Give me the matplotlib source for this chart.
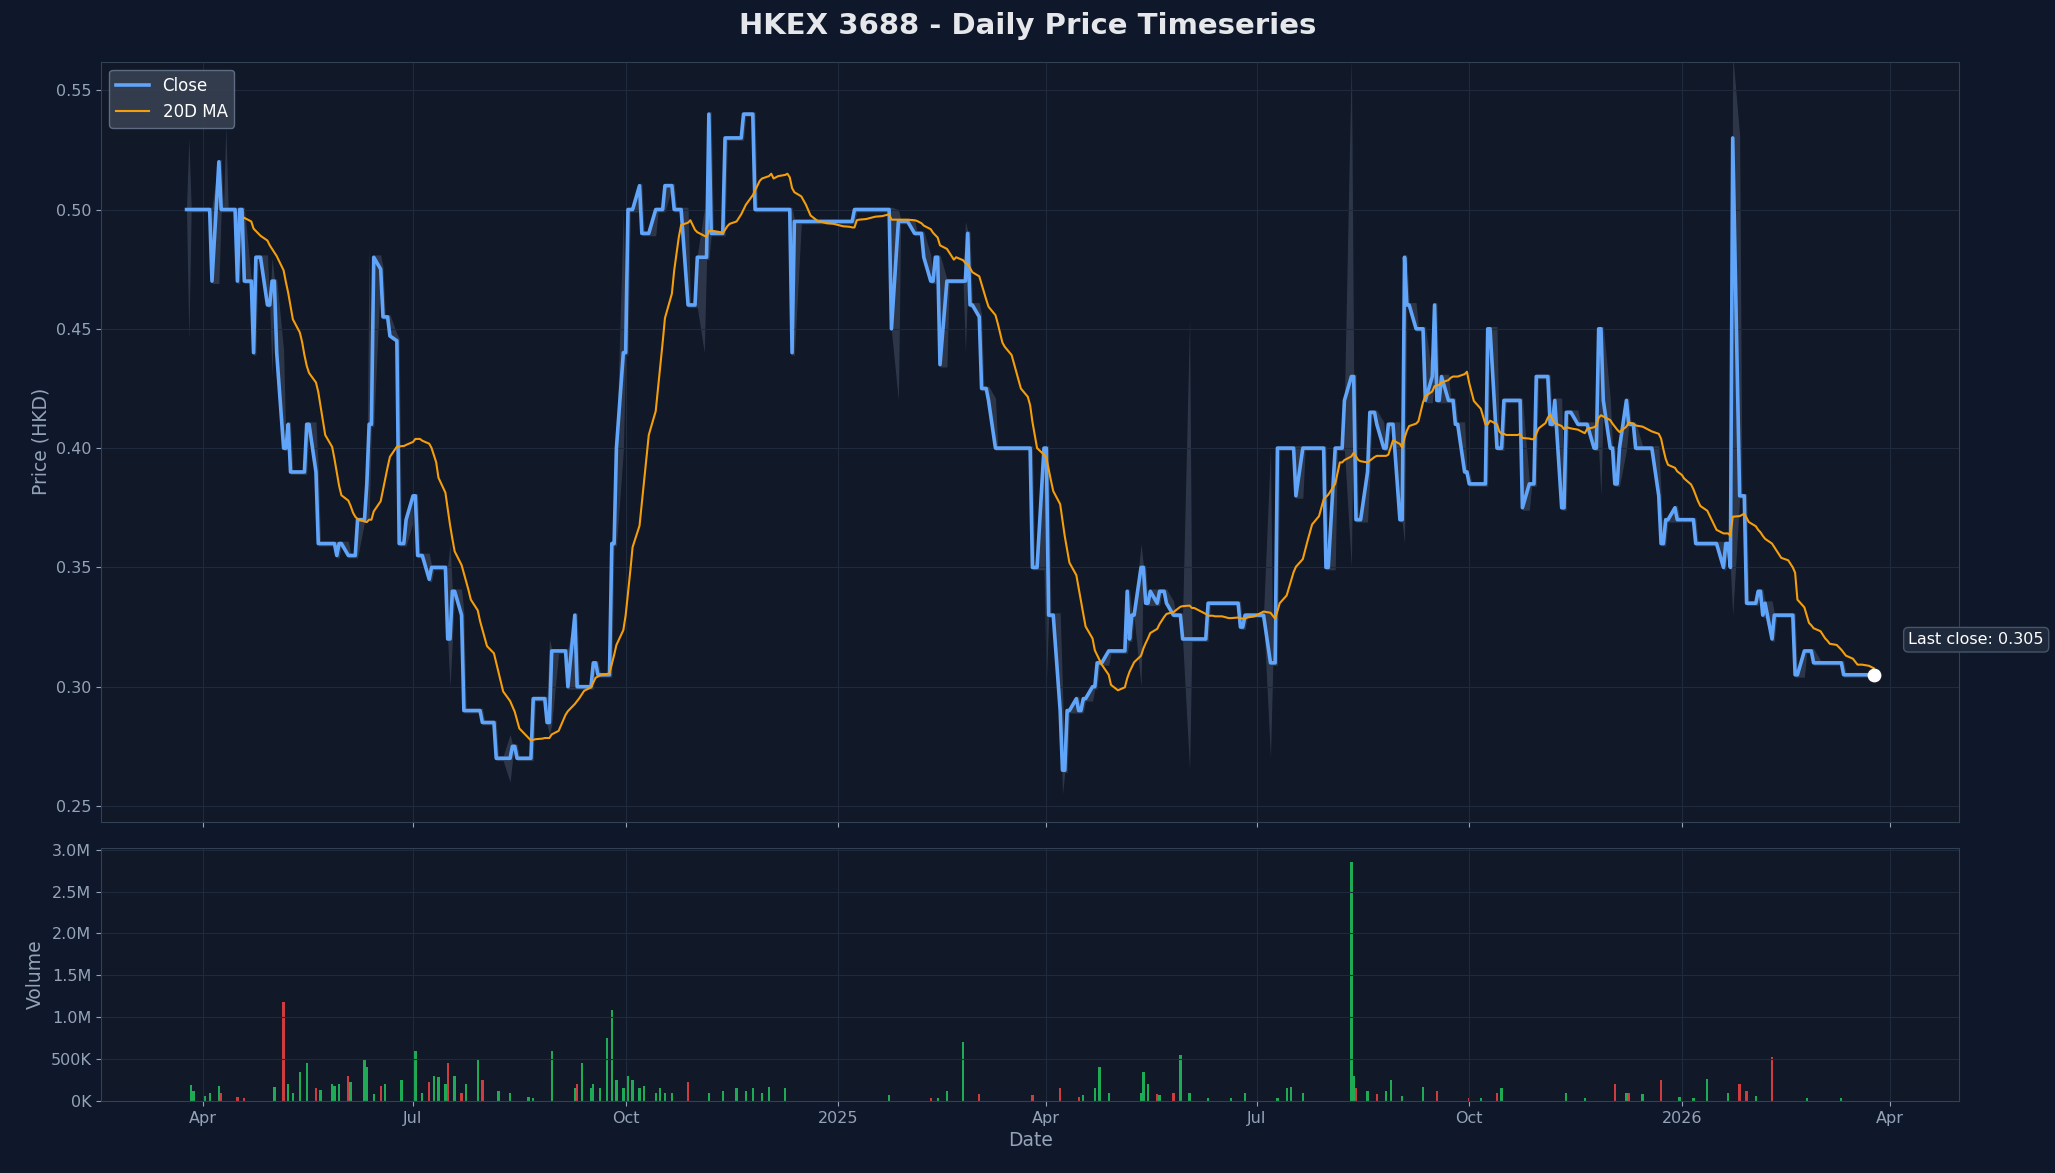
import numpy as np
import pandas as pd
import matplotlib
matplotlib.use("Agg")
import matplotlib.pyplot as plt
import matplotlib.dates as mdates
from matplotlib.ticker import FuncFormatter

BASE = "2024-04-01"
# close breakpoints: day offset from BASE, close price (forward filled between)
close_days = [-7,1,4,6,7,8,14,15,16,18,22,23,27,28,30,32,35,37,38,42,45,48,50,56,58,59,62,63,67,71,72,74,76,78,81,84,85,88,91,93,96,98,99,105,106,108,110,113,120,121,126,127,133,134,136,141,143,147,149,151,156,158,161,162,167,169,171,175,177,179,182,184,186,189,190,194,195,198,200,203,204,205,208,210,213,214,217,219,220,224,226,230,234,238,239,253,255,256,281,282,297,298,299,307,308,312,315,317,319,321,328,331,332,334,336,337,338,340,342,358,359,361,362,364,366,370,372,374,376,379,381,383,387,392,394,400,401,402,405,406,408,410,413,414,417,420,423,424,434,435,448,449,451,461,462,465,471,473,474,475,485,486,488,492,494,495,496,499,502,505,508,511,513,516,518,520,521,524,525,526,529,532,533,534,536,538,539,542,544,546,548,555,556,559,560,563,569,571,573,576,577,581,583,585,587,588,590,593,594,599,601,603,604,606,608,611,613,615,617,620,625,628,629,631,633,635,638,645,646,649,651,656,658,659,661,662,663,665,668,672,673,675,676,679,680,686,689,692,693,697,709,710,723]
close_vals = [0.50,0.50,0.47,0.50,0.52,0.50,0.50,0.47,0.50,0.47,0.44,0.48,0.47,0.46,0.47,0.44,0.40,0.41,0.39,0.39,0.41,0.39,0.36,0.36,0.355,0.36,0.34,0.355,0.37,0.385,0.41,0.48,0.475,0.455,0.447,0.445,0.36,0.37,0.38,0.355,0.36,0.345,0.35,0.35,0.32,0.34,0.33,0.29,0.29,0.285,0.285,0.27,0.27,0.275,0.27,0.27,0.295,0.295,0.285,0.315,0.315,0.30,0.33,0.30,0.30,0.31,0.305,0.305,0.36,0.40,0.44,0.50,0.50,0.51,0.49,0.495,0.50,0.50,0.51,0.51,0.50,0.50,0.49,0.46,0.46,0.48,0.48,0.54,0.49,0.49,0.53,0.53,0.54,0.54,0.50,0.50,0.44,0.495,0.495,0.50,0.50,0.45,0.495,0.495,0.49,0.48,0.47,0.48,0.435,0.47,0.47,0.49,0.46,0.455,0.455,0.425,0.425,0.42,0.40,0.40,0.35,0.35,0.32,0.40,0.33,0.29,0.265,0.29,0.295,0.29,0.295,0.30,0.31,0.315,0.315,0.34,0.32,0.33,0.33,0.35,0.335,0.34,0.335,0.34,0.335,0.33,0.33,0.32,0.32,0.335,0.335,0.325,0.33,0.33,0.31,0.40,0.40,0.38,0.39,0.40,0.40,0.35,0.40,0.40,0.42,0.40,0.43,0.37,0.39,0.415,0.41,0.40,0.41,0.39,0.37,0.48,0.46,0.46,0.45,0.45,0.42,0.43,0.46,0.42,0.43,0.44,0.42,0.41,0.36,0.39,0.385,0.385,0.45,0.45,0.40,0.42,0.42,0.375,0.385,0.385,0.43,0.43,0.41,0.42,0.40,0.375,0.415,0.415,0.41,0.41,0.40,0.40,0.45,0.42,0.40,0.385,0.40,0.42,0.41,0.40,0.40,0.39,0.38,0.36,0.37,0.375,0.37,0.37,0.36,0.34,0.36,0.36,0.35,0.36,0.35,0.53,0.49,0.38,0.335,0.335,0.34,0.33,0.335,0.32,0.33,0.33,0.305,0.32,0.315,0.31,0.31,0.305,0.305]

# intraday extremes: day offset, high, low
spike_days = [-6, 10, 30, 72, 107, 133, 150, 180, 215, 300, 330, 365, 372, 405, 427, 462, 496, 520, 605, 662]
spike_high = [0.53, 0.535, 0.48, 0.485, 0.36, 0.28, 0.32, 0.50, 0.50, 0.50, 0.495, 0.40, 0.30, 0.36, 0.455, 0.40, 0.565, 0.48, 0.45, 0.565]
spike_low = [0.445, 0.50, 0.43, 0.37, 0.30, 0.26, 0.28, 0.43, 0.44, 0.42, 0.44, 0.30, 0.255, 0.30, 0.265, 0.27, 0.35, 0.36, 0.38, 0.33]

# volume: day offset, thousands of shares
vol_days = [-5,-4,1,3,5,7,8,15,18,31,35,37,39,42,45,49,51,54,57,59,62,64,70,71,74,77,79,86,92,95,97,100,102,105,106,109,112,114,118,121,128,133,141,143,151,161,162,164,166,169,172,175,177,179,181,184,186,189,191,195,198,200,203,209,219,225,231,235,238,242,245,252,297,314,318,321,328,335,359,369,371,379,381,386,388,392,405,407,409,411,414,419,423,427,435,445,451,465,469,471,475,496,498,499,502,508,512,514,519,528,534,548,553,559,562,590,598,611,615,617,621,623,631,639,645,650,660,663,665,668,671,679,694,709]
vol_vals = [190,120,60,90,130,180,100,50,40,170,1180,200,100,350,450,150,130,200,180,200,300,220,500,400,80,180,200,250,600,100,230,300,280,200,450,300,100,200,500,250,120,100,50,30,600,150,200,450,150,200,150,750,1080,250,150,300,250,150,180,100,150,100,100,230,100,120,150,120,150,100,170,150,70,40,30,120,700,80,70,120,160,50,70,150,400,100,100,350,200,80,70,100,550,100,40,30,100,30,150,170,100,2850,300,150,120,80,120,250,60,170,120,40,30,100,150,100,40,200,100,100,70,80,250,50,40,260,100,150,200,120,60,530,30,30]

BG = "#0f172a"; AX = "#111827"; GRID = "#1f2a3c"; TXT = "#94a3b8"

base = pd.Timestamp(BASE)
bd = pd.bdate_range(base + pd.Timedelta(days=min(close_days)), base + pd.Timedelta(days=max(close_days)))
bp = pd.Series(close_vals, index=[base + pd.Timedelta(days=d) for d in close_days])
bp = bp[~bp.index.duplicated(keep="last")]
close = bp.reindex(bp.index.union(bd)).ffill().reindex(bd)
ma = close.rolling(20).mean()
prev = close.shift(1).fillna(close)
high = np.maximum(close, prev) + 0.001
low = np.minimum(close, prev) - 0.001
for d, h, l in zip(spike_days, spike_high, spike_low):
    t = bd[bd.searchsorted(base + pd.Timedelta(days=d))]
    high[t] = max(high[t], h); low[t] = min(low[t], l)

vol = pd.Series(0.0, index=bd)
for d, v in zip(vol_days, vol_vals):
    i = min(bd.searchsorted(base + pd.Timedelta(days=d)), len(bd) - 1)
    vol.iloc[i] = max(vol.iloc[i], v * 1000)
up = close >= prev

W, H = 1568, 895
plt.rcParams['font.family'] = ['DejaVu Sans']
fig = plt.figure(figsize=(20.55, 11.73), dpi=100, facecolor=BG)
ax = fig.add_axes([77/W, 1-627/H, 1418/W, 580/H], facecolor=AX)
axv = fig.add_axes([77/W, 1-840/H, 1418/W, 193/H], facecolor=AX, sharex=ax)

ax.fill_between(bd, low, high, color="#475569", alpha=0.5, lw=0)
ax.plot(bd, close, color="#60a5fa", lw=2.6, label="Close")
ax.plot(bd, ma, color="#f59e0b", lw=1.5, label="20D MA")
ax.scatter([bd[-1]], [close.iloc[-1]], s=80, color="white", zorder=5)
ax.annotate(f"Last close: {close.iloc[-1]:.3f}", (bd[-1], close.iloc[-1]), xytext=(25, 22),
            textcoords="offset points", color="white", fontsize=11.5,
            bbox=dict(boxstyle="round,pad=0.3", fc="#1e293b", ec="#475569"))
ax.set_ylim(0.2434, 0.562)
ax.set_ylabel("Price (HKD)", color=TXT, fontsize=13.5)
ax.legend(loc="upper left", fontsize=12, facecolor="#374151", edgecolor="#64748b", labelcolor="white", framealpha=0.9)

axv.bar(bd, vol, width=1.0, color=np.where(up, "#22c55e", "#ef4444"), alpha=0.85)
axv.set_ylim(0, 3.02e6)
axv.set_yticks(np.arange(0, 3.01e6, 5e5))
axv.yaxis.set_major_formatter(FuncFormatter(lambda v, p: "0K" if v == 0 else (f"{v/1e6:.1f}M" if v >= 1e6 else f"{v/1e3:.0f}K")))
axv.set_ylabel("Volume", color=TXT, fontsize=13.5)
axv.set_xlabel("Date", color=TXT, fontsize=13.5)
axv.xaxis.set_major_locator(mdates.MonthLocator(bymonth=[1, 4, 7, 10]))
axv.xaxis.set_major_formatter(FuncFormatter(lambda v, p: mdates.num2date(v).strftime("%Y" if mdates.num2date(v).month == 1 else "%b")))
plt.setp(ax.get_xticklabels(), visible=False)

for a in (ax, axv):
    a.grid(True, color=GRID, lw=0.8)
    a.tick_params(colors=TXT, labelsize=11.5)
    for s in a.spines.values():
        s.set_color("#334155")
fig.suptitle("HKEX 3688 - Daily Price Timeseries", color="#e5e7eb", fontsize=21, fontweight="bold", y=0.99)
fig.savefig("out.png", dpi=100, facecolor=BG)
